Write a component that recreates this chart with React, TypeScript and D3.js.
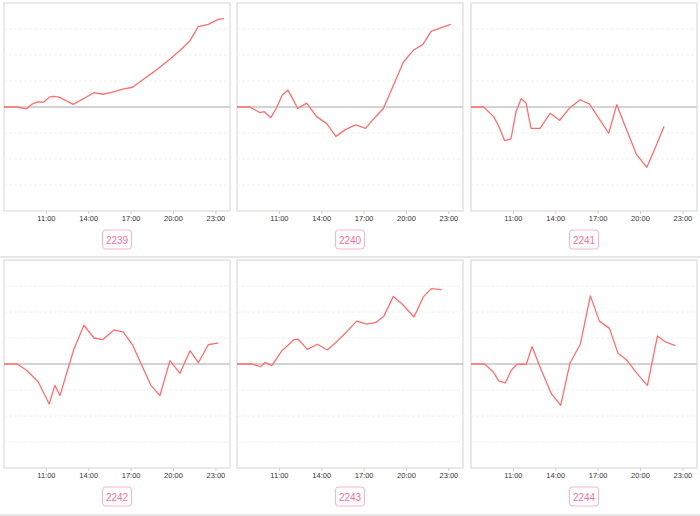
import React from "react";
import * as d3 from "d3";

const panelNames = ["2239", "2240", "2241", "2242", "2243", "2244"];
const tickHours = [11, 14, 17, 20, 23];

const t2239 = [8, 8.9, 9.6, 9.96, 10.36, 10.83, 11.2, 11.5, 11.9, 12.9, 14.37, 15.0, 15.7, 16.4, 17.1, 17.9, 18.6, 19.5, 20.46, 21.17, 21.76, 22.46, 23.17, 23.58];
const v2239 = [0, 0, -0.07, 0.1, 0.2, 0.19, 0.38, 0.41, 0.38, 0.1, 0.55, 0.49, 0.57, 0.69, 0.76, 1.08, 1.35, 1.73, 2.17, 2.55, 3.09, 3.18, 3.37, 3.4];

const t2240 = [8, 8.92, 9.63, 9.93, 10.4, 10.8, 11.2, 11.6, 11.9, 12.3, 12.93, 13.64, 14.35, 15.0, 15.7, 16.4, 17.1, 17.7, 18.36, 19.07, 19.78, 20.5, 21.15, 21.74, 22.37, 23.13];
const v2240 = [0, 0, -0.22, -0.18, -0.41, -0.03, 0.45, 0.65, 0.36, -0.06, 0.15, -0.37, -0.64, -1.13, -0.86, -0.69, -0.82, -0.44, -0.06, 0.83, 1.73, 2.19, 2.4, 2.91, 3.03, 3.18];

const t2241 = [8, 8.9, 9.6, 9.96, 10.38, 10.83, 11.19, 11.56, 11.9, 12.25, 12.89, 13.6, 14.28, 14.96, 15.72, 16.38, 17.09, 17.75, 18.32, 19.0, 19.7, 20.45, 21.1, 21.67];
const v2241 = [0, 0, -0.37, -0.73, -1.29, -1.23, -0.18, 0.33, 0.15, -0.82, -0.82, -0.24, -0.51, -0.05, 0.28, 0.12, -0.47, -1.01, 0.09, -0.86, -1.81, -2.32, -1.5, -0.74];

const t2242 = [8, 8.94, 9.6, 10.43, 11.2, 11.6, 11.96, 12.96, 13.66, 14.37, 15.0, 15.79, 16.45, 17.1, 17.75, 18.4, 19.04, 19.75, 20.46, 21.17, 21.76, 22.46, 23.17];
const v2242 = [0, 0, -0.24, -0.69, -1.54, -0.82, -1.21, 0.59, 1.49, 1.0, 0.94, 1.31, 1.23, 0.74, -0.05, -0.82, -1.21, 0.13, -0.36, 0.51, 0.05, 0.74, 0.81];

const t2243 = [8, 9.04, 9.68, 9.98, 10.46, 11.21, 11.63, 12.04, 12.32, 12.98, 13.69, 14.39, 15.06, 15.77, 16.47, 17.18, 17.84, 18.41, 19.07, 19.73, 20.53, 21.19, 21.76, 22.49];
const v2243 = [0, 0, -0.1, 0.06, -0.06, 0.53, 0.73, 0.94, 0.96, 0.56, 0.76, 0.54, 0.86, 1.24, 1.65, 1.53, 1.6, 1.85, 2.6, 2.29, 1.81, 2.58, 2.9, 2.86];

const t2244 = [8, 8.97, 9.6, 9.96, 10.43, 10.85, 11.26, 11.92, 12.32, 12.96, 13.69, 14.35, 15.01, 15.74, 16.45, 17.09, 17.8, 18.41, 19.05, 19.76, 20.49, 21.2, 21.76, 22.47];
const v2244 = [0, 0, -0.32, -0.65, -0.73, -0.24, -0.01, -0.01, 0.67, -0.21, -1.14, -1.59, 0.04, 0.76, 2.62, 1.65, 1.37, 0.41, 0.14, -0.37, -0.82, 1.08, 0.85, 0.71];

const panelTimes = [t2239, t2240, t2241, t2242, t2243, t2244];
const panelValues = [v2239, v2240, v2241, v2242, v2243, v2244];
const gridLevels = [-3, -2, -1, 1, 2, 3];

const colLeft = [4, 237, 471];
const rowTop = [3, 260];
const PW = 226;
const PH = 208;
const LINE = "#ff6e6e";
const FONT = "'Liberation Sans', Arial, sans-serif";

function Panel({ idx }: { idx: number }) {
  const left = colLeft[idx % 3];
  const top = rowTop[Math.floor(idx / 3)];
  const x = d3.scaleLinear().domain([8, 24]).range([left, left + PW]);
  const y = d3.scaleLinear().domain([-4, 4]).range([top + PH, top]);
  const times = panelTimes[idx];
  const vals = panelValues[idx];
  const pts: [number, number][] = times.map((t, i) => [t, vals[i]]);
  const line = d3
    .line<[number, number]>()
    .x((d) => x(d[0]))
    .y((d) => y(d[1]));
  const cx = left + PW / 2;
  return (
    <g>
      <rect x={left} y={top} width={PW} height={PH} fill="#fff" stroke="#e2e2e2" strokeWidth={1.5} />
      {gridLevels.map((g) => (
        <line key={g} x1={left} x2={left + PW} y1={y(g)} y2={y(g)} stroke="#f0f0f0" strokeWidth={1} strokeDasharray="3,2" />
      ))}
      <line x1={left} x2={left + PW} y1={y(0)} y2={y(0)} stroke="#c4c4c4" strokeWidth={1.5} />
      {tickHours.map((h) => (
        <g key={h}>
          <line x1={x(h)} x2={x(h)} y1={top + PH} y2={top + PH + 3} stroke="#d0d0d0" strokeWidth={1} />
          <text x={x(h)} y={top + PH + 10} textAnchor="middle" fontSize={7.5} fill="#333" fontFamily={FONT}>
            {`${h}:00`}
          </text>
        </g>
      ))}
      <path d={line(pts) || ""} fill="none" stroke={LINE} strokeWidth={1.3} strokeLinejoin="round" />
      <rect x={cx - 14.5} y={top + 227} width={29} height={19} rx={3} ry={3} fill="#fff" stroke="#f9b3c8" strokeWidth={1} />
      <text x={cx} y={top + 240.5} textAnchor="middle" fontSize={10} fill="#f0739b" fontFamily={FONT}>
        {panelNames[idx]}
      </text>
    </g>
  );
}

export default function App() {
  return (
    <svg width={700} height={516} style={{ position: "absolute", left: 0, top: 0, background: "#fff" }}>
      <rect x={0} y={0} width={700} height={516} fill="#fff" />
      <line x1={0} x2={700} y1={257} y2={257} stroke="#e6e6e6" strokeWidth={2} />
      <line x1={0} x2={700} y1={515} y2={515} stroke="#e6e6e6" strokeWidth={2} />
      {panelNames.map((_, i) => (
        <Panel key={i} idx={i} />
      ))}
    </svg>
  );
}
